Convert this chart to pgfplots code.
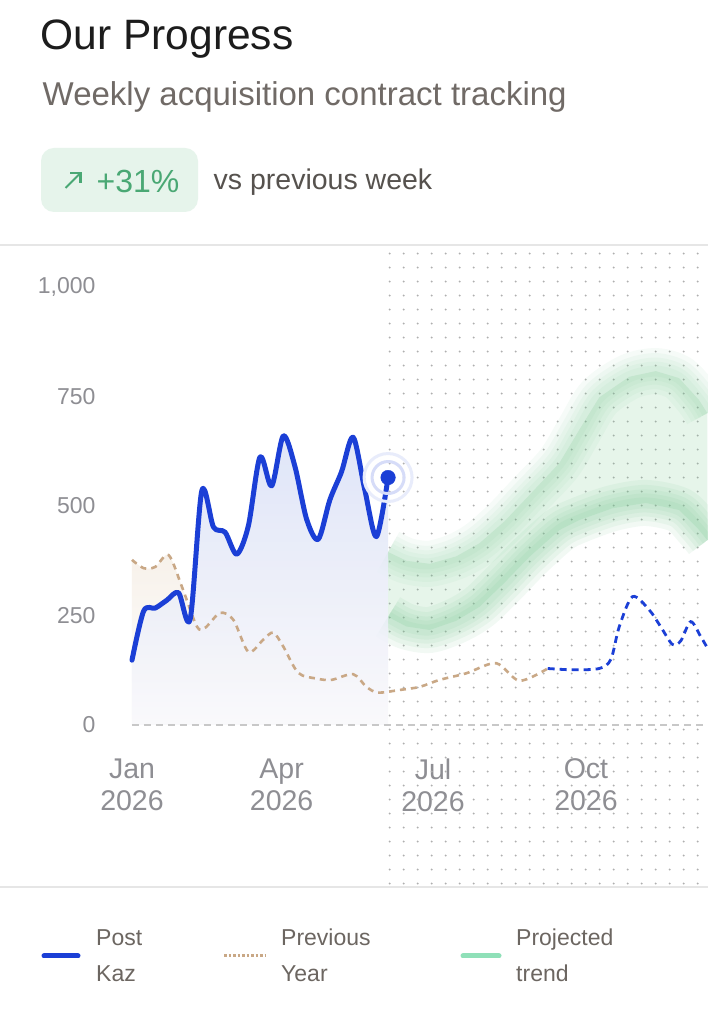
\documentclass[border=0pt]{standalone}
\usepackage{fontspec}
\setmainfont{Liberation Sans}
\usepackage{pgfplots}
\usepackage{pgfplotstable}
\pgfplotsset{compat=1.18}
\usetikzlibrary{patterns}

\definecolor{kaz}{RGB}{27,63,214}
\definecolor{tanc}{RGB}{201,168,134}
\definecolor{band}{RGB}{108,196,136}
\definecolor{legg}{RGB}{143,224,184}
\definecolor{fillblue}{RGB}{218,225,247}
\definecolor{fillbot}{RGB}{249,248,251}
\definecolor{beige}{RGB}{247,241,234}
\definecolor{gridc}{RGB}{200,200,200}
\definecolor{dotc}{RGB}{175,175,175}
\definecolor{ticklab}{RGB}{142,142,147}
\definecolor{titlec}{RGB}{28,28,28}
\definecolor{subc}{RGB}{112,106,102}
\definecolor{vsc}{RGB}{86,82,78}
\definecolor{badgebg}{RGB}{230,244,235}
\definecolor{badgefg}{RGB}{74,168,116}
\definecolor{sepc}{RGB}{230,230,230}
\definecolor{legtext}{RGB}{108,102,97}

\pgfdeclarepatternformonly{griddots}{\pgfpointorigin}{\pgfpoint{14pt}{14pt}}{\pgfpoint{14pt}{14pt}}{%
  \pgfpathcircle{\pgfpoint{12.5pt}{3.7pt}}{1.15pt}\pgfusepath{fill}}

\pgfplotstableread{
d v
0 148
7 260
14 267
21 285
28 302
35 242
42 535
49 452
56 440
63 390
70 455
77 612
84 546
91 660
98 590
105 470
112 424
119 514
126 578
133 657
140 537
147 430
154 565
}\tabkaz

\pgfplotstableread{
d v
0 377
7 358
14 361
22 388
30 316
39 225
44 222
53 256
61 240
70 167
79 195
85 211
91 179
100 119
111 106
120 103
133 116
141 87
148 74
161 80
173 87
185 103
201 118
219 141
233 101
250 129
}\tabprev

\pgfplotstableread{
d v
0 377
7 358
14 361
22 388
30 316
39 225
44 222
53 256
61 240
70 167
79 195
85 211
91 179
100 119
111 106
120 103
133 116
141 87
148 74
152 76
}\tabprevfill

\pgfplotstableread{
d v
250 129
265 126
281 129
288 150
293 224
301 293
311 263
318 224
325 184
330 192
336 236
342 202
346 176
}\tabproj

\pgfplotstableread{
d v
154 395
165 375
179 368
195 385
209 415
224 465
239 525
257 598
269 674
281 748
299 795
315 808
329 792
341 742
346 712
}\tabupper

\pgfplotstableread{
d v
154 247
165 225
179 217
195 238
209 270
224 325
239 384
257 445
269 468
289 495
309 507
329 491
340 450
346 422
}\tablower

% band outline: upper bound forward, lower bound back
\pgfplotstableread{
d v
154 395
165 375
179 368
195 385
209 415
224 465
239 525
257 598
269 674
281 748
299 795
315 808
329 792
341 742
346 712
346 422
340 450
329 491
309 507
289 495
269 468
257 445
239 384
224 325
209 270
195 238
179 217
165 225
154 247
}\tabband

\begin{document}
\begin{tikzpicture}[x=1pt,y=1pt]
\fill[white] (0,0) rectangle (708,1013);

% header
\node[anchor=base west, inner sep=0, text=titlec, font=\fontsize{42.5}{48}\selectfont] at (40.5,963) {Our Progress};
\node[anchor=base west, inner sep=0, text=subc, font=\fontsize{33}{40}\selectfont] at (42.5,907) {Weekly acquisition contract tracking};
\fill[badgebg, rounded corners=13pt] (41,801) rectangle (198,865);
\draw[badgefg, line width=2.1pt] (65.5,825) -- (80.5,840);
\draw[badgefg, line width=2.1pt] (70,840) -- (80.5,840) -- (80.5,829.5);
\node[anchor=base west, inner sep=0, text=badgefg, font=\fontsize{32}{38}\selectfont] at (96.5,820.7) {+31\%};
\node[anchor=base west, inner sep=0, text=vsc, font=\fontsize{28.5}{32}\selectfont] at (213.5,823) {vs previous week};

\begin{axis}[
  at={(0pt,127pt)}, anchor=south west,
  width=708pt, height=641pt, scale only axis,
  xmin=-79.38, xmax=346.4, ymin=-367.6, ymax=1095.9,
  axis line style={draw=none},
  major tick length=0pt,
  xtick={0,90,181,273},
  xticklabels={{Jan\\2026},{Apr\\2026},{Jul\\2026},{Oct\\2026}},
  xticklabel style={align=center, font=\fontsize{28.5}{32}\selectfont, text=ticklab, anchor=north, yshift=131pt},
  ytick={0,250,500,750,1000},
  yticklabels={0,250,500,750,{1,000}},
  yticklabel style={font=\fontsize{23}{26}\selectfont, text=ticklab, anchor=east, xshift=99pt},
  /pgf/number format/assume math mode=true,
]
% dotted projection area
\fill[pattern=griddots, pattern color=dotc] (axis cs:153.9,-367) rectangle (axis cs:346.4,1095);

% projected band
\addplot[fill=band, fill opacity=0.17, draw=none] table[x=d,y=v] {\tabband} -- cycle;
\pgfplotsinvokeforeach{46,36,27,19,11}{
  \addplot[band, line width=#1pt, opacity=0.06, smooth, line cap=butt] table[x=d,y=v] {\tabupper};
  \addplot[band, line width=#1pt, opacity=0.085, smooth, line cap=butt] table[x=d,y=v] {\tablower};
}

% fills
\addplot[draw=none, top color=beige, bottom color=white, smooth] table[x=d,y=v] {\tabprevfill} \closedcycle;
\addplot[draw=none, top color=fillblue, bottom color=fillbot, fill opacity=0.85, smooth] table[x=d,y=v] {\tabkaz} \closedcycle;

% zero line
\addplot[gridc, line width=1.5pt, dash pattern=on 7pt off 5pt] coordinates {(0,0) (346.4,0)};

% previous year
\addplot[tanc, line width=2.6pt, dash pattern=on 6pt off 5pt, smooth] table[x=d,y=v] {\tabprev};
% projection dashed
\addplot[kaz, line width=2.8pt, dash pattern=on 7pt off 5pt, smooth] table[x=d,y=v] {\tabproj};

% halo
\addplot[only marks, mark=o, mark size=24pt, mark options={draw=kaz!10, line width=3pt}] coordinates {(154,565)};
\addplot[only marks, mark=o, mark size=16pt, mark options={draw=kaz!18, line width=3pt}] coordinates {(154,565)};
% main line
\addplot[kaz, line width=5pt, smooth, line cap=round, line join=round] table[x=d,y=v] {\tabkaz};
\addplot[only marks, mark=*, mark size=7.3pt, mark options={fill=kaz, draw=kaz}] coordinates {(154,565)};
\end{axis}

% separators
\draw[sepc, line width=2pt] (0,768) -- (708,768);
\draw[sepc, line width=2pt] (0,126) -- (708,126);

% legend
\draw[kaz, line width=5pt, line cap=round] (44,57) -- (78,57);
\node[anchor=base west, inner sep=0, text=legtext, font=\fontsize{23}{28}\selectfont] at (96,67.3) {Post};
\node[anchor=base west, inner sep=0, text=legtext, font=\fontsize{23}{28}\selectfont] at (96,31.3) {Kaz};
\draw[tanc, line width=3pt, dash pattern=on 2.5pt off 2pt] (224,57) -- (265,57);
\node[anchor=base west, inner sep=0, text=legtext, font=\fontsize{23}{28}\selectfont] at (281,67.3) {Previous};
\node[anchor=base west, inner sep=0, text=legtext, font=\fontsize{23}{28}\selectfont] at (281,31.3) {Year};
\draw[legg, line width=5pt, line cap=round] (463,57) -- (499,57);
\node[anchor=base west, inner sep=0, text=legtext, font=\fontsize{23}{28}\selectfont] at (516,67.3) {Projected};
\node[anchor=base west, inner sep=0, text=legtext, font=\fontsize{23}{28}\selectfont] at (516,31.3) {trend};

\pgfresetboundingbox
\path[use as bounding box] (0,0) rectangle (708,1013);
\end{tikzpicture}
\end{document}
